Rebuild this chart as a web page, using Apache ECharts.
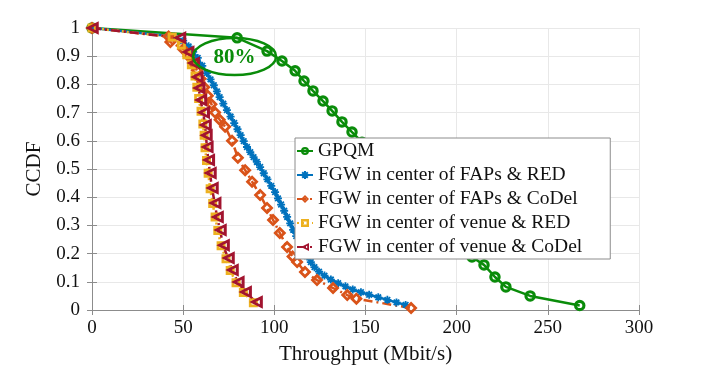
<!DOCTYPE html>
<html>
<head>
<meta charset="utf-8">
<script src="https://cdn.jsdelivr.net/npm/echarts@6/dist/echarts.min.js"></script>
<style>
  html, body { margin: 0; padding: 0; background: #fff; }
  #chart { width: 706px; height: 370px; }
</style>
</head>
<body>
<div id="chart"></div>
<script>
// series names, as in the legend
var names = [
  'GPQM',
  'FGW in center of FAPs & RED',
  'FGW in center of FAPs & CoDel',
  'FGW in center of venue & RED',
  'FGW in center of venue & CoDel'
]

// [throughput (Mbit/s), CCDF]
var gpqm = [
  [0, 1], [79.6, 0.965], [96.0, 0.918], [104.2, 0.883], [111.4, 0.848], [116.3, 0.812],
  [121.2, 0.777], [126.7, 0.741], [131.7, 0.706], [137.1, 0.667], [142.6, 0.631],
  [148.1, 0.595], [153.4, 0.558], [159.1, 0.521], [164.4, 0.485], [170.2, 0.447],
  [175.6, 0.411], [181.3, 0.372], [186.8, 0.336], [192.3, 0.298], [197.6, 0.262],
  [203.2, 0.224], [208.4, 0.188], [215.0, 0.160], [221.0, 0.117], [227.0, 0.082],
  [240.3, 0.050], [267.5, 0.016]
]
var fapsRed = [
  [0, 1], [45, 0.97], [50, 0.955], [53, 0.935], [55.5, 0.915], [58, 0.894], [60.5, 0.866],
  [63, 0.84], [65, 0.818], [66.8, 0.797], [68.5, 0.775], [70, 0.755], [72, 0.732],
  [74, 0.709], [76, 0.686], [78, 0.663], [79.8, 0.641], [81.5, 0.62], [83.2, 0.599],
  [85, 0.578], [86.8, 0.56], [88.6, 0.542], [90.4, 0.525], [92.2, 0.507], [94.2, 0.485],
  [96.2, 0.463], [98.3, 0.44], [100.4, 0.418], [102, 0.396], [103.7, 0.374], [105.4, 0.352],
  [107, 0.33], [108.7, 0.307], [110.3, 0.284], [112, 0.262], [114, 0.237], [116, 0.212],
  [118, 0.19], [120, 0.17], [122, 0.152], [124.5, 0.136], [127.5, 0.122], [131, 0.108],
  [135, 0.095], [139, 0.084], [143, 0.073], [147.5, 0.063], [152, 0.054], [157, 0.045],
  [162, 0.036], [167, 0.027], [172, 0.018]
]
var fapsCodel = [
  [0, 1], [42, 0.97], [43, 0.95], [50, 0.925], [53, 0.9], [55.4, 0.876], [57.5, 0.85],
  [59.5, 0.82], [61.5, 0.79], [63.5, 0.76], [65.5, 0.73], [67.5, 0.70], [70, 0.675],
  [73, 0.65], [76.8, 0.6], [80, 0.54], [84, 0.496], [87.8, 0.455], [92.2, 0.408],
  [96, 0.362], [99.3, 0.319], [103, 0.273], [107, 0.223], [110, 0.19], [112.5, 0.17],
  [116.8, 0.135], [123.4, 0.106], [132.2, 0.078], [140, 0.053], [145, 0.04], [175, 0.007]
]
var venueRed = [
  [0, 1], [44, 0.968], [49, 0.94], [52, 0.905], [54.5, 0.87], [56.5, 0.83], [57.5, 0.79],
  [58.5, 0.75], [59.8, 0.705], [60.8, 0.66], [61.5, 0.62], [62, 0.575], [62.8, 0.53],
  [63.7, 0.485], [64.8, 0.43], [66.2, 0.378], [67.5, 0.33], [69, 0.282], [70.8, 0.228],
  [73.5, 0.182], [75.8, 0.14], [79, 0.097], [83, 0.062], [88.5, 0.026]
]
var venueCodel = [
  [0, 1], [48, 0.965], [52.5, 0.915], [55.5, 0.876], [57.5, 0.826], [58.5, 0.787],
  [59.5, 0.745], [61, 0.70], [62, 0.656], [62.5, 0.62], [63, 0.578], [63.8, 0.532],
  [64.7, 0.486], [65.8, 0.433], [67.3, 0.379], [68.6, 0.33], [70.2, 0.284], [71.9, 0.23],
  [74.6, 0.184], [76.8, 0.142], [80, 0.099], [84, 0.064], [90, 0.028]
]

// the circled "80%" note sits at this data point
var noteAt = [78.2, 0.899]
var noteText = '80%'

var serif = 'Liberation Serif, Times New Roman, serif'
var green = '#0a8c0a'
var axisGray = '#8c8c8c'

// thick hollow markers: outer shape with an inner hole drawn the other way round
var ring = 'path://M0,-10A10,10 0 1,1 0,10A10,10 0 1,1 0,-10Z' +
  'M0,-4.5A4.5,4.5 0 1,0 0,4.5A4.5,4.5 0 1,0 0,-4.5Z'
var diamond = 'path://M0,-10L10,0L0,10L-10,0Z M0,-4L-4,0L0,4L4,0Z'
var square = 'path://M-10,-10L10,-10L10,10L-10,10Z M-4,-4L-4,4L4,4L4,-4Z'
var triLeft = 'path://M-10,0L10,-10L10,10Z M-1,0L5.5,3.3L5.5,-3.3Z'
var asterisk = 'path://M0,-10L0,10M-10,0L10,0M-7,-7L7,7M-7,7L7,-7'

var chart = echarts.init(document.getElementById('chart'))

function lineSeries(name, data, color, symbol, size, dash, bw) {
  return {
    name: name,
    type: 'line',
    data: data,
    clip: false,
    symbol: symbol,
    symbolSize: size,
    showAllSymbol: true,
    lineStyle: { color: color, width: 2.5, type: dash },
    itemStyle: { color: color, borderColor: color, borderWidth: bw },
    emphasis: { disabled: true },
    animation: false
  }
}

chart.setOption({
  backgroundColor: '#fff',
  animation: false,
  grid: { left: 92, right: 67, top: 28, bottom: 60 },
  legend: {
    orient: 'vertical',
    left: 295,
    top: 138,
    padding: [3, 28, 2, 1],
    itemWidth: 16,
    itemHeight: 10,
    itemGap: 4,
    backgroundColor: '#fff',
    borderColor: axisGray,
    borderWidth: 1,
    textStyle: { fontFamily: serif, fontSize: 19.5, color: '#111' },
    data: names
  },
  xAxis: [
    {
      type: 'value', min: 0, max: 300, interval: 50,
      name: 'Throughput (Mbit/s)', nameLocation: 'middle', nameGap: 34,
      nameTextStyle: { fontFamily: serif, fontSize: 21, color: '#111' },
      axisLine: { onZero: false, lineStyle: { color: axisGray } },
      axisTick: { inside: true, length: 5, lineStyle: { color: axisGray } },
      axisLabel: { fontFamily: serif, fontSize: 19, color: '#111', margin: 9 },
      splitLine: { lineStyle: { color: '#e8e8e8' } }
    },
    {
      type: 'value', min: 0, max: 300, interval: 50, position: 'top',
      axisLine: { lineStyle: { color: axisGray } },
      axisTick: { inside: true, length: 5, lineStyle: { color: axisGray } },
      axisLabel: { show: false },
      splitLine: { show: false }
    }
  ],
  yAxis: [
    {
      type: 'value', min: 0, max: 1, interval: 0.1,
      name: 'CCDF', nameLocation: 'middle', nameGap: 44,
      nameTextStyle: { fontFamily: serif, fontSize: 21, color: '#111' },
      axisLine: { show: true, onZero: false, lineStyle: { color: axisGray } },
      axisTick: { show: true, inside: true, length: 5, lineStyle: { color: axisGray } },
      axisLabel: { fontFamily: serif, fontSize: 19, color: '#111', margin: 12 },
      splitLine: { lineStyle: { color: '#e8e8e8' } }
    },
    {
      type: 'value', min: 0, max: 1, interval: 0.1, position: 'right',
      axisLine: { show: true, lineStyle: { color: axisGray } },
      axisTick: { show: true, inside: true, length: 5, lineStyle: { color: axisGray } },
      axisLabel: { show: false },
      splitLine: { show: false }
    }
  ],
  series: [
    lineSeries(names[0], gpqm, green, ring, 11.5, 'solid', 0),
    lineSeries(names[1], fapsRed, '#0072bd', asterisk, 8, 'solid', 1.8),
    lineSeries(names[2], fapsCodel, '#d95319', diamond, 13, [9, 4, 2, 4], 0),
    lineSeries(names[3], venueRed, '#edb120', square, 9, [2, 3], 0),
    lineSeries(names[4], venueCodel, '#a2142f', triLeft, 13.5, [9, 4, 2, 4], 0)
  ]
})

// place the ellipse note through the axes' own scale
var c = chart.convertToPixel({ gridIndex: 0 }, noteAt)
chart.setOption({
  graphic: [
    {
      type: 'ellipse', z: 100,
      shape: { cx: c[0], cy: c[1], rx: 41.5, ry: 18.5 },
      style: { fill: 'rgba(0,0,0,0)', stroke: green, lineWidth: 2.5 }
    },
    {
      type: 'text', z: 101,
      x: c[0], y: c[1] + 1,
      style: {
        text: noteText, fill: green,
        font: 'bold 21px ' + serif,
        align: 'center', verticalAlign: 'middle',
        textAlign: 'center', textVerticalAlign: 'middle'
      }
    }
  ]
})
</script>
</body>
</html>
